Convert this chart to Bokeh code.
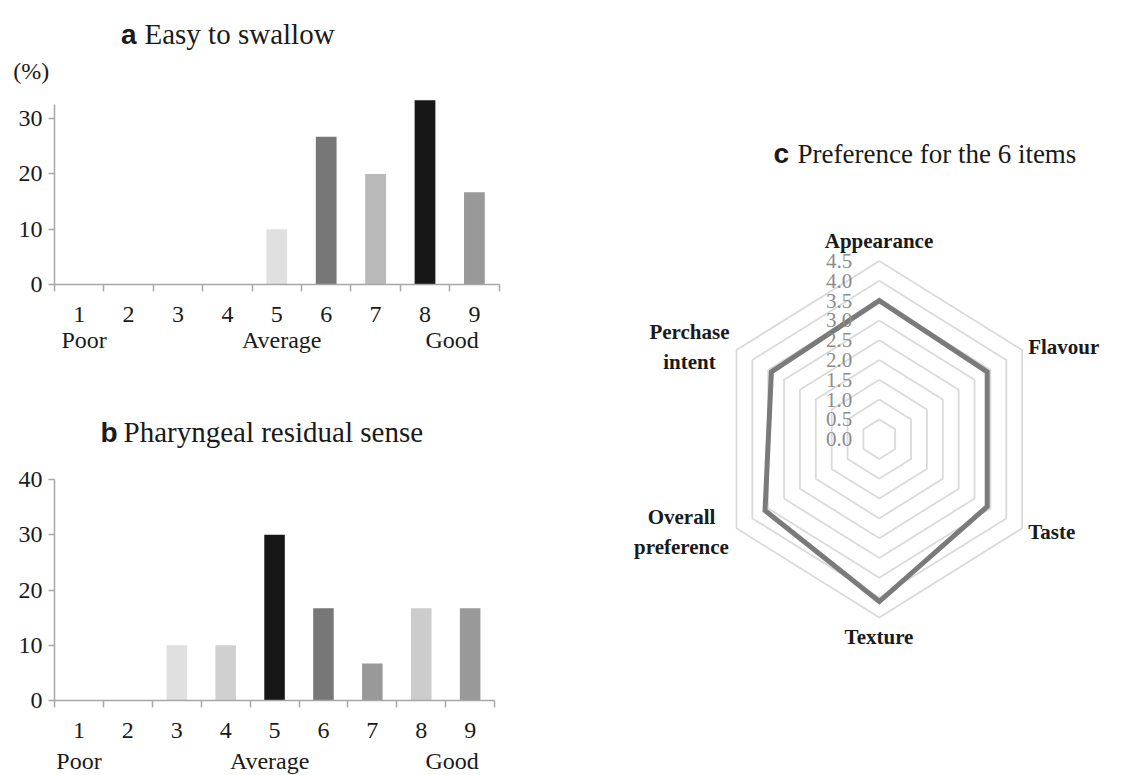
import math
from bokeh.plotting import figure
from bokeh.models import FixedTicker, Label, ColumnDataSource, LinearAxis
from bokeh.layouts import row, column
from bokeh.embed import file_html
from bokeh.resources import INLINE
from bokeh.core.properties import value, field

# ---------------- data ----------------
scores = [1, 2, 3, 4, 5, 6, 7, 8, 9]
score_labels = ["1", "2", "3", "4", "5", "6", "7", "8", "9"]
swallow_pct = [0, 0, 0, 0, 10.0, 26.7, 20.0, 33.3, 16.7]
swallow_colors = ["#999999", "#999999", "#999999", "#999999", "#e0e0e0",
                  "#777777", "#b9b9b9", "#171717", "#999999"]
residual_pct = [0, 0, 10.0, 10.0, 30.0, 16.7, 6.7, 16.7, 16.7]
residual_colors = ["#999999", "#999999", "#e0e0e0", "#d0d0d0", "#171717",
                   "#777777", "#999999", "#cccccc", "#999999"]
scale_words = ["Poor", "Average", "Good"]
a_word_pos = [1.1, 5.1, 8.55]
b_word_pos = [1.0, 4.9, 8.63]
a_yticks = [0, 10, 20, 30]
b_yticks = [0, 10, 20, 30, 40]

radar_items = ["Appearance", "Flavour", "Taste", "Texture",
               "Overall\npreference", "Perchase\nintent"]
radar_values = [3.5, 3.4, 3.4, 4.1, 3.6, 3.4]
radar_ticks = [0.0, 0.5, 1.0, 1.5, 2.0, 2.5, 3.0, 3.5, 4.0, 4.5]

SERIF = "Liberation Serif"
SANS = "Liberation Sans"
AXIS_GRAY = "#a6a6a6"
TXT = "#1a1a1a"


class PxMap:
    """pixel <-> data mapping helper for one figure (pixels from the figure's top-left)"""
    def __init__(self, w, h, x_px, x_val, x_ppu, y_px, y_val, y_ppu):
        self.w, self.h = w, h
        self.x_px, self.x_val, self.x_ppu = x_px, x_val, x_ppu
        self.y_px, self.y_val, self.y_ppu = y_px, y_val, y_ppu

    def x(self, px):
        return self.x_val + (px - self.x_px) / self.x_ppu

    def y(self, py):
        return self.y_val + (self.y_px - py) / self.y_ppu

    def xr(self):
        return (self.x(0), self.x(self.w))

    def yr(self):
        return (self.y(self.h), self.y(0))


def bar_panel(values, colors, yticks, m, ax_top, letter, title, letter_px, title_px,
              title_base_py, words_py, word_pos, pct_px=None):
    p = figure(width=m.w, height=m.h, x_range=m.xr(), y_range=m.yr(),
               x_axis_type=None, y_axis_type=None, min_border=0,
               output_backend="svg", toolbar_location=None,
               outline_line_color=None, background_fill_color="white",
               border_fill_color="white")
    yax = LinearAxis(ticker=FixedTicker(ticks=yticks), bounds=(0, ax_top), fixed_location=0.5)
    yax.axis_line_color = AXIS_GRAY
    yax.axis_line_width = 1.5
    yax.major_tick_line_color = AXIS_GRAY
    yax.major_tick_line_width = 1.5
    yax.major_tick_out = 6
    yax.major_tick_in = 0
    yax.minor_tick_line_color = None
    yax.major_label_standoff = 6
    yax.major_label_text_font = SERIF
    yax.major_label_text_font_size = "24px"
    yax.major_label_text_color = TXT
    p.add_layout(yax, "left")

    xax = LinearAxis(ticker=FixedTicker(ticks=scores,
                                        minor_ticks=[s - 0.5 for s in scores] + [scores[-1] + 0.5]),
                     bounds=(0.5, 9.5), fixed_location=0)
    xax.major_label_overrides = {s: l for s, l in zip(scores, score_labels)}
    xax.axis_line_color = AXIS_GRAY
    xax.axis_line_width = 1.5
    xax.major_tick_line_color = None
    xax.major_tick_out = 0
    xax.major_tick_in = 0
    xax.minor_tick_line_color = AXIS_GRAY
    xax.minor_tick_line_width = 1.5
    xax.minor_tick_out = 7
    xax.minor_tick_in = 0
    xax.major_label_standoff = 15
    xax.major_label_text_font = SERIF
    xax.major_label_text_font_size = "24px"
    xax.major_label_text_color = TXT
    p.add_layout(xax, "below")

    src = ColumnDataSource(dict(x=scores, top=values, color=colors))
    p.vbar(x="x", top="top", width=0.42, color="color", line_color=None, source=src)

    for w, pos in zip(scale_words, word_pos):
        p.add_layout(Label(x=pos, y=m.y(words_py), text=w, text_align="center",
                           text_baseline="middle", text_font=SERIF,
                           text_font_size="24px", text_color=TXT))
    p.add_layout(Label(x=m.x(letter_px), y=m.y(title_base_py), text=letter, text_align="left",
                       text_baseline="alphabetic", text_font=SANS,
                       text_font_style="bold", text_font_size="28px", text_color=TXT))
    p.add_layout(Label(x=m.x(title_px), y=m.y(title_base_py), text=title, text_align="left",
                       text_baseline="alphabetic", text_font=SERIF,
                       text_font_size="29px", text_color=TXT))
    if pct_px is not None:
        p.add_layout(Label(x=m.x(pct_px[0]), y=m.y(pct_px[1]), text="(%)", text_align="left",
                           text_baseline="middle", text_font=SERIF,
                           text_font_size="24px", text_color=TXT))
    return p


ma = PxMap(560, 380, 54.0, 0.5, 49.4, 284.0, 0.0, 5.53)
mb = PxMap(560, 395, 54.0, 0.5, 48.9, 320.0, 0.0, 5.525)

pa = bar_panel(swallow_pct, swallow_colors, a_yticks, ma, 32.5,
               "a", "Easy to swallow", 120.5, 144, 33.5, 339, a_word_pos, pct_px=(12.7, 70))
pb = bar_panel(residual_pct, residual_colors, b_yticks, mb, 40,
               "b", "Pharyngeal residual sense", 100, 123, 51.7, 380, b_word_pos)

# ---------------- radar ----------------
X0 = 560  # page x of the radar figure
mc = PxMap(586, 775, 878.8 - X0, 0.0, 36.65, 438.7, 0.0, 39.6)
pc = figure(width=mc.w, height=mc.h, x_range=mc.xr(), y_range=mc.yr(),
            x_axis_type=None, y_axis_type=None, min_border=0,
            output_backend="svg", toolbar_location=None,
            outline_line_color=None, background_fill_color="white",
            border_fill_color="white")

n = len(radar_items)
angles = [math.pi / 2 - i * 2 * math.pi / n for i in range(n)]

ring_xs, ring_ys = [], []
for r in radar_ticks[1:]:
    ring_xs.append([r * math.cos(a) for a in angles] + [r * math.cos(angles[0])])
    ring_ys.append([r * math.sin(a) for a in angles] + [r * math.sin(angles[0])])
pc.multi_line(xs=ring_xs, ys=ring_ys, line_color="#dadada", line_width=1.8)

data_x = [v * math.cos(a) for v, a in zip(radar_values, angles)]
data_y = [v * math.sin(a) for v, a in zip(radar_values, angles)]
pc.patch(x=data_x + [data_x[0]], y=data_y + [data_y[0]], fill_color=None,
         line_color="#7a7a7a", line_width=5, line_join="miter")

pc.text(x=[mc.x(851.7 - X0)] * len(radar_ticks), y=radar_ticks,
        text=[f"{t:.1f}" for t in radar_ticks],
        text_align="right", text_baseline="middle",
        text_font=value(SERIF), text_font_size="21px", text_color="#8c8c8c")

# label anchors (page pixels)
lab_px = [878.5, 1027.7, 1027.7, 878.5, 681, 689]
lab_py = [240.7, 346, 531.7, 636.7, 531.3, 346.3]
lab_src = ColumnDataSource(dict(
    x=[mc.x(px - X0) for px in lab_px],
    y=[mc.y(py) for py in lab_py],
    text=radar_items,
    align=["center", "left", "left", "center", "center", "center"],
))
pc.text(x="x", y="y", text="text", source=lab_src, text_align=field("align"),
        text_baseline="middle", text_font=value(SERIF), text_font_style="bold",
        text_font_size="21px", text_color=TXT, text_line_height=1.26)

pc.add_layout(Label(x=mc.x(773 - X0), y=mc.y(153), text="c", text_align="left",
                    text_baseline="alphabetic", text_font=SANS, text_font_style="bold",
                    text_font_size="28px", text_color=TXT))
pc.add_layout(Label(x=mc.x(797 - X0), y=mc.y(153), text="Preference for the  6 items",
                    text_align="left", text_baseline="alphabetic", text_font=SERIF,
                    text_font_size="27px", text_color=TXT))

layout = row(column(pa, pb), pc)
open("out.html", "w").write(file_html(layout, INLINE))
